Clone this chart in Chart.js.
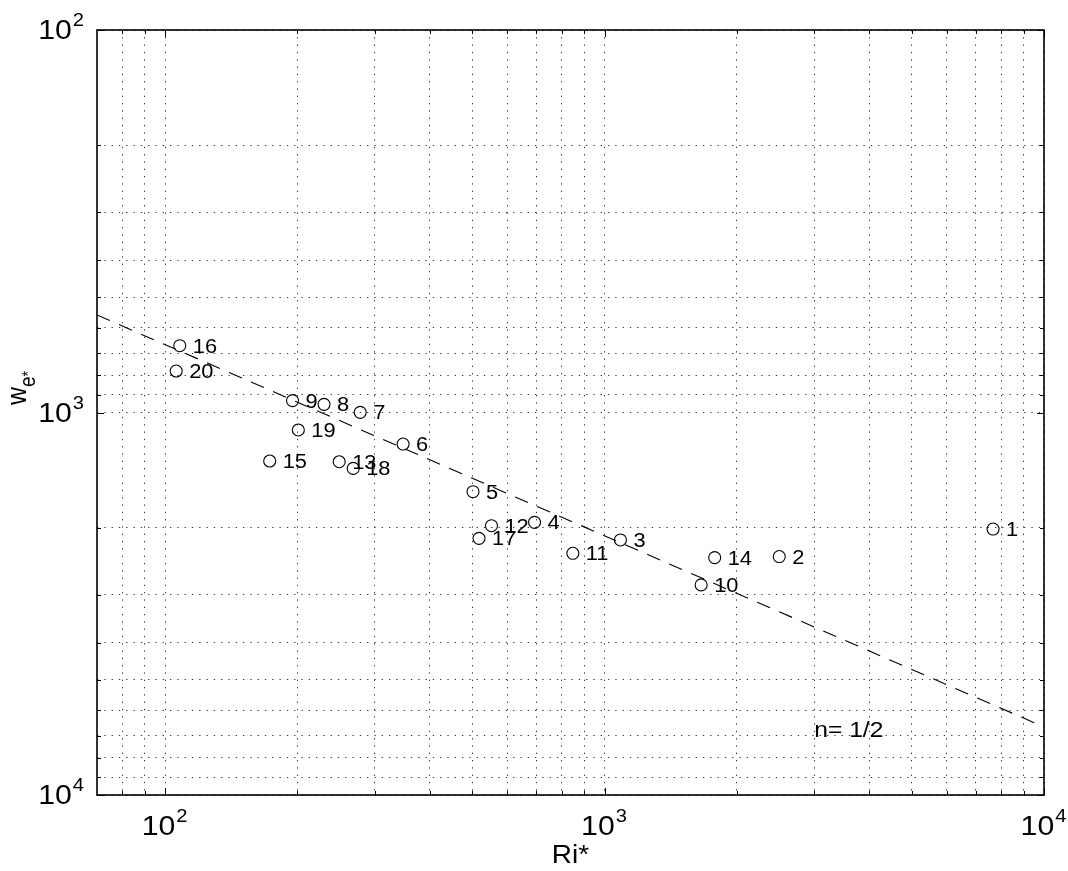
<!DOCTYPE html>
<html>
<head>
<meta charset="utf-8">
<script src="https://cdn.jsdelivr.net/npm/chart.js@4/dist/chart.umd.min.js"></script>
<style>
  html, body { margin: 0; padding: 0; background: #fff; }
  canvas { display: block; }
</style>
</head>
<body>
<canvas id="chart" width="1068" height="871"></canvas>
<script>
/* DATA */
const runIds = ["1", "2", "3", "4", "5", "6", "7", "8", "9", "10",
                "11", "12", "13", "14", "15", "16", "17", "18", "19", "20"];
const riVals = [7657, 2498, 1087, 693, 502, 348, 278, 230, 195, 1659,
                847, 553, 249, 1781, 173, 108, 518, 268, 201, 106];
const weVals = [2017, 2380, 2154, 1937, 1611, 1209, 999, 952, 931, 2823,
                2334, 1977, 1345, 2395, 1339, 669, 2133, 1400, 1111, 779];

// fitted line, n = 1/2
const fitRi = [70, 10000];
const fitWe = [556, 6640];

const xTickVals = [100, 1000, 10000];
const xTickExp = ["2", "3", "4"];
const yTickVals = [100, 1000, 10000];
const yTickExp = ["2", "3", "4"];
const xGridVals = [80, 90, 100, 200, 300, 400, 500, 600, 700, 800, 900,
                   1000, 2000, 3000, 4000, 5000, 6000, 7000, 8000, 9000, 10000];
const yGridVals = [100, 200, 300, 400, 500, 600, 700, 800, 900,
                   1000, 2000, 3000, 4000, 5000, 6000, 7000, 8000, 9000, 10000];

const noteText = "n= 1/2";
const noteAt = [3000, 7050];

/* HELPERS */
const FONT = "'Liberation Sans', Arial, sans-serif";
const SX = 1.12;   // the source figure is a little stretched sideways

function txt(ctx, s, x, y, size, align) {
  ctx.save();
  ctx.font = size + "px " + FONT;
  const w = ctx.measureText(s).width * SX;
  let left = x;
  if (align === "center") left = x - w / 2;
  if (align === "right") left = x - w;
  ctx.translate(left, y);
  ctx.scale(SX, 1);
  ctx.textAlign = "left";
  ctx.textBaseline = "alphabetic";
  ctx.fillText(s, 0, 0);
  ctx.restore();
  return w;
}

function powWidth(ctx, base, exp) {
  ctx.font = "27px " + FONT;
  const wb = ctx.measureText(base).width * SX;
  ctx.font = "18px " + FONT;
  const we = ctx.measureText(exp).width * SX;
  return wb + 2 + we;
}

function drawPow(ctx, exp, x, y, align) {
  const total = powWidth(ctx, "10", exp);
  const left = align === "center" ? x - total / 2 : x - total;
  const wb = txt(ctx, "10", left, y, 27, "left");
  txt(ctx, exp, left + wb + 1, y - 13, 18, "left");
}

/* OVERLAY: box, inner ticks, labels */
const overlay = {
  id: "overlay",
  afterDraw(chart) {
    const { ctx, chartArea: a, scales } = chart;
    const x = scales.x, y = scales.y;
    ctx.save();
    ctx.fillStyle = "#000";
    ctx.strokeStyle = "#000";

    // ticks pointing inward
    ctx.lineWidth = 1;
    ctx.beginPath();
    xGridVals.forEach(v => {
      const px = Math.round(x.getPixelForValue(v)) + 0.5;
      const len = xTickVals.includes(v) ? 7 : 4;
      ctx.moveTo(px, a.bottom); ctx.lineTo(px, a.bottom - len);
      ctx.moveTo(px, a.top); ctx.lineTo(px, a.top + len);
    });
    yGridVals.forEach(v => {
      const py = Math.round(y.getPixelForValue(v)) + 0.5;
      const len = yTickVals.includes(v) ? 7 : 4;
      ctx.moveTo(a.left, py); ctx.lineTo(a.left + len, py);
      ctx.moveTo(a.right, py); ctx.lineTo(a.right - len, py);
    });
    ctx.stroke();

    // box
    ctx.lineWidth = 1.6;
    ctx.strokeRect(a.left, a.top, a.right - a.left, a.bottom - a.top);

    // tick labels
    xTickVals.forEach((v, i) => {
      drawPow(ctx, xTickExp[i], x.getPixelForValue(v), a.bottom + 40, "center");
    });
    yTickVals.forEach((v, i) => {
      drawPow(ctx, yTickExp[i], a.left - 12, y.getPixelForValue(v) + 9, "right");
    });

    // axis titles
    txt(ctx, "Ri*", (a.left + a.right) / 2, a.bottom + 68, 25, "center");

    ctx.save();
    ctx.translate(26, 405);
    ctx.rotate(-Math.PI / 2);
    ctx.scale(1, SX);
    ctx.font = "25px " + FONT;
    ctx.fillText("w", 0, 0);
    const ww = ctx.measureText("w").width;
    ctx.font = "19px " + FONT;
    ctx.fillText("e", ww, 8);
    const we = ctx.measureText("e").width;
    ctx.font = "14px " + FONT;
    ctx.fillText("*", ww + we, 7);
    ctx.restore();

    // point numbers
    const meta = chart.getDatasetMeta(0);
    meta.data.forEach((pt, i) => {
      txt(ctx, runIds[i], pt.x + 13, pt.y + 7, 19.5, "left");
    });

    // note
    txt(ctx, noteText, x.getPixelForValue(noteAt[0]), y.getPixelForValue(noteAt[1]), 22, "left");

    ctx.restore();
  }
};

/* CHART */
const points = riVals.map((v, i) => ({ x: v, y: weVals[i] }));
const fitLine = fitRi.map((v, i) => ({ x: v, y: fitWe[i] }));

const gridOpts = {
  color: "#333",
  lineWidth: 1,
  drawTicks: false
};

new Chart(document.getElementById("chart"), {
  type: "scatter",
  data: {
    datasets: [
      {
        label: "runs",
        data: points,
        pointStyle: "circle",
        pointRadius: 6,
        pointHoverRadius: 6,
        borderColor: "#000",
        borderWidth: 1.1,
        backgroundColor: "rgba(0,0,0,0)",
        showLine: false
      },
      {
        label: "fit",
        data: fitLine,
        showLine: true,
        borderColor: "#000",
        borderWidth: 1.1,
        borderDash: [14, 10],
        pointRadius: 0,
        fill: false
      }
    ]
  },
  options: {
    responsive: false,
    animation: false,
    events: [],
    layout: {
      autoPadding: false,
      padding: { left: 97, top: 30, right: 24, bottom: 76 }
    },
    plugins: {
      legend: { display: false },
      tooltip: { enabled: false }
    },
    scales: {
      x: {
        type: "logarithmic",
        min: 70,
        max: 10000,
        ticks: { display: false, autoSkip: false },
        grid: gridOpts,
        border: { display: false, dash: [1.3, 6] },
        afterBuildTicks: s => { s.ticks = xGridVals.map(v => ({ value: v })); }
      },
      y: {
        type: "logarithmic",
        reverse: true,
        min: 100,
        max: 10000,
        ticks: { display: false, autoSkip: false },
        grid: gridOpts,
        border: { display: false, dash: [1.3, 6] },
        afterBuildTicks: s => { s.ticks = yGridVals.map(v => ({ value: v })); }
      }
    }
  },
  plugins: [overlay]
});
</script>
</body>
</html>
